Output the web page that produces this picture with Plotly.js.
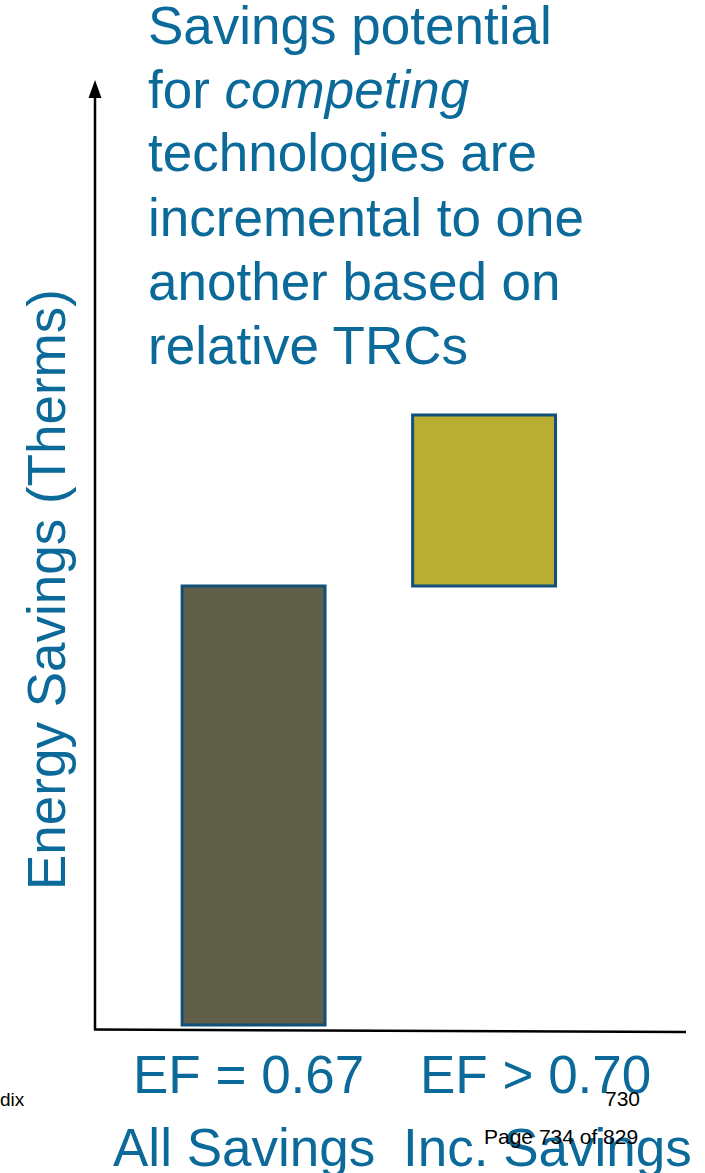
<!DOCTYPE html>
<html>
<head>
<meta charset="utf-8">
<script src="https://cdn.plot.ly/plotly-3.0.1.min.js"></script>
<style>
html,body{margin:0;padding:0;background:#fff;}
#chart{width:705px;height:1173px;}
</style>
</head>
<body>
<div id="chart"></div>
<script>
// ---- data ----
const categories = ['EF = 0.67', 'EF > 0.70'];
const subLabels = ['All Savings', 'Inc. Savings'];
const allSavings = 100;      // energy savings of base technology (relative units)
const incremental = 39;      // incremental savings of competing technology
const barValues = [allSavings, incremental];
const barBases = [0, allSavings];
const barColors = ['#5f5f4a', '#b9ae33'];
const titleLines = ['Savings potential', 'for <i>competing</i>', 'technologies are',
                    'incremental to one', 'another based on', 'relative TRCs'];
const yTitle = 'Energy Savings (Therms)';

// ---- geometry helpers (page pixels -> paper) ----
const W = 705, H = 1173;
const L = 95, R = 686, T = 80, B = 1029;
const px = x => (x - L) / (R - L);
const py = y => (B - y) / (B - T);

const blue = '#0b6a99';
const FONT = 'Liberation Sans, Arial, sans-serif';
const BIG = 53;

const trace = {
  type: 'bar',
  x: [0, 1],
  y: barValues,
  base: barBases,
  width: 0.62,
  marker: {color: barColors, line: {color: '#0f5178', width: 3}},
  hoverinfo: 'skip'
};

const annotations = [];
const titleCenters = [25, 89, 153, 217, 281, 345];
titleLines.forEach((t, i) => annotations.push({
  text: t, xref: 'paper', yref: 'paper', x: px(146), y: py(titleCenters[i]),
  xanchor: 'left', yanchor: 'middle', showarrow: false,
  font: {family: FONT, size: BIG, color: blue}
}));
annotations.push({
  text: yTitle, xref: 'paper', yref: 'paper', x: px(46), y: py(590),
  xanchor: 'center', yanchor: 'middle', textangle: -90, showarrow: false,
  font: {family: FONT, size: BIG, color: blue}
});
const row1Shift = [-5, 51], row2Shift = [-10, 63];
categories.forEach((c, i) => {
  annotations.push({
    text: c, xref: 'x', yref: 'paper', x: i, y: py(1074), xshift: row1Shift[i],
    xanchor: 'center', yanchor: 'middle', showarrow: false,
    font: {family: FONT, size: BIG, color: blue}
  });
  annotations.push({
    text: subLabels[i], xref: 'x', yref: 'paper', x: i, y: py(1147), xshift: row2Shift[i],
    xanchor: 'center', yanchor: 'middle', showarrow: false,
    font: {family: FONT, size: BIG, color: blue}
  });
});
// page furniture
annotations.push({text: 'dix', xref: 'paper', yref: 'paper', x: px(-2), y: py(1099),
  xanchor: 'left', yanchor: 'middle', showarrow: false, font: {family: FONT, size: 19, color: '#000'}});
annotations.push({text: '730', xref: 'paper', yref: 'paper', x: px(622), y: py(1098),
  xanchor: 'center', yanchor: 'middle', showarrow: false, font: {family: FONT, size: 21, color: '#000'}});
annotations.push({text: 'Page 734 of 829', xref: 'paper', yref: 'paper', x: px(561), y: py(1136),
  xanchor: 'center', yanchor: 'middle', showarrow: false, font: {family: FONT, size: 21, color: '#000'}});

const shapes = [
  {type: 'line', xref: 'paper', yref: 'paper', x0: px(95), y0: py(1030), x1: px(95), y1: py(96),
   line: {color: '#000', width: 2.5}},
  {type: 'path', xref: 'paper', yref: 'paper', fillcolor: '#000', line: {width: 0},
   path: `M ${px(95)} ${py(80)} L ${px(88.5)} ${py(98)} L ${px(101.5)} ${py(98)} Z`},
  {type: 'line', xref: 'paper', yref: 'paper', x0: px(94), y0: py(1029.5), x1: px(686), y1: py(1032),
   line: {color: '#000', width: 2.5}}
];

const layout = {
  width: W, height: H,
  margin: {l: L, r: W - R, t: T, b: H - B, pad: 0},
  paper_bgcolor: '#fff', plot_bgcolor: '#fff',
  showlegend: false,
  xaxis: {range: [-0.688, 1.876], showgrid: false, zeroline: false, showticklabels: false,
          showline: false, ticks: '', fixedrange: true},
  yaxis: {range: [-0.91, 215.3], showgrid: false, zeroline: false, showticklabels: false,
          showline: false, ticks: '', fixedrange: true},
  annotations: annotations,
  shapes: shapes
};

Plotly.newPlot('chart', [trace], layout, {displayModeBar: false, staticPlot: true});
</script>
</body>
</html>
